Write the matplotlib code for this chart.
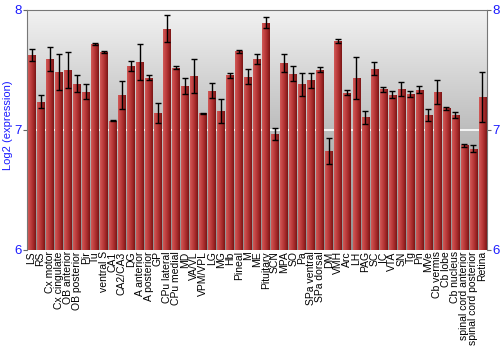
import numpy as np
import matplotlib
matplotlib.use("Agg")
import matplotlib.pyplot as plt
from matplotlib.colors import LinearSegmentedColormap

regions = ["LS", "RS", "Cx motor", "Cx cingulate", "OB anterior", "OB posterior",
           "Pir", "Tu", "ventral S", "CA1", "CA2/CA3", "DG", "A anterior",
           "A posterior", "GP", "CPu lateral", "CPu medial", "MD", "VA/VL",
           "VPM/VPL", "LG", "MG", "Hb", "Pineal", "M", "ME", "Pituitary", "SCN",
           "MPA", "SO", "Pa", "SPa ventral", "SPa dorsal", "DM", "VMH", "Arc",
           "LH", "PAG", "SC", "IC", "VTA", "SN", "Tg", "Pn", "MVe", "Cb vermis",
           "Cb lobe", "Cb nucleus", "spinal cord anterior",
           "spinal cord posterior", "Retina"]
expr = [7.625, 7.236, 7.589, 7.478, 7.497, 7.383, 7.319, 7.714, 7.647, 7.075,
        7.292, 7.533, 7.564, 7.436, 7.139, 7.844, 7.519, 7.367, 7.447, 7.139,
        7.325, 7.153, 7.456, 7.653, 7.442, 7.590, 7.894, 6.967, 7.553, 7.467,
        7.378, 7.414, 7.500, 6.822, 7.739, 7.311, 7.433, 7.106, 7.511, 7.339,
        7.294, 7.339, 7.300, 7.336, 7.125, 7.314, 7.178, 7.122, 6.872, 6.844,
        7.275]
err = [0.050, 0.053, 0.100, 0.150, 0.150, 0.070, 0.062, 0.011, 0.007, 0.003,
       0.115, 0.039, 0.150, 0.020, 0.085, 0.112, 0.015, 0.065, 0.143, 0.004,
       0.062, 0.100, 0.020, 0.012, 0.062, 0.044, 0.046, 0.049, 0.075, 0.064,
       0.092, 0.062, 0.022, 0.107, 0.018, 0.018, 0.176, 0.054, 0.051, 0.022,
       0.029, 0.060, 0.025, 0.028, 0.049, 0.100, 0.012, 0.025, 0.014, 0.032,
       0.210]

plt.rcParams["font.family"] = ["Liberation Sans", "DejaVu Sans"]
blue = "#1a1aff"
fig = plt.figure(figsize=(5, 3.5), dpi=100)
ax = fig.add_axes([0.054, 0.286, 0.92, 0.686])

x = np.arange(len(regions))

# grey background gradient
bg = LinearSegmentedColormap.from_list("bg", ["#8f8f8f", "#bdbdbd", "#f2f2f2"])
ax.imshow(np.linspace(0, 1, 256).reshape(-1, 1), cmap=bg, aspect="auto",
          extent=[0, 1, 0, 1], transform=ax.transAxes, origin="lower", zorder=0)
ax.axhline(7, color="white", lw=1.2, zorder=1)

bars = ax.bar(x, np.array(expr) - 6, bottom=6, width=0.82, color="#b03030",
              edgecolor="none", zorder=2)
red = LinearSegmentedColormap.from_list("red", ["#d05a58", "#c04040", "#a52a2a", "#7a1515"])
grad = np.linspace(0, 1, 64).reshape(1, -1)
for b in bars:
    im = ax.imshow(grad, cmap=red, aspect="auto", zorder=2.5,
                   extent=[b.get_x(), b.get_x() + b.get_width(), 6, b.get_y() + b.get_height()])
    im.set_clip_path(b)
ax.set_xlim(-0.5, len(regions) - 0.5)
ax.set_ylim(6, 8)

ax.errorbar(x, expr, yerr=err, fmt="none", ecolor="black", elinewidth=1,
            capsize=2.2, capthick=1, zorder=3)

ax.set_xticks(x)
ax.set_xticklabels(regions, rotation=90, fontsize=7.5)
ax.tick_params(axis="x", length=0, pad=1)
ax.set_yticks([6, 7, 8])
ax.tick_params(axis="y", labelcolor=blue, labelsize=9.5, length=3, color="#666666",
               right=True, labelright=True, pad=1)
ax.set_ylabel("Log2 (expression)", color=blue, fontsize=8, va="center")
ax.yaxis.set_label_coords(-0.041, 0.52)
for s in ax.spines.values():
    s.set_color("#777777")
ax.spines["bottom"].set_visible(False)

fig.savefig("out.png", dpi=100)
